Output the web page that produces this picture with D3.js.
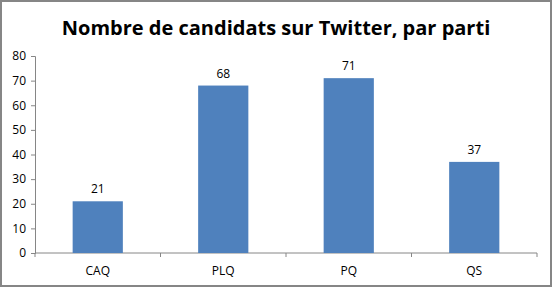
<!DOCTYPE html>
<html>
<head>
<script src="https://cdn.jsdelivr.net/npm/d3@7"></script>
<style>
  body { margin: 0; background: #fff; }
  svg { display: block; font-family: "Open Sans", "Liberation Sans", sans-serif; }
</style>
</head>
<body>
<svg id="chart" width="552" height="287"></svg>
<script>
// données du graphique
const partis = ["CAQ", "PLQ", "PQ", "QS"];
const candidats = [21, 68, 71, 37];
const yTicks = [0, 10, 20, 30, 40, 50, 60, 70, 80];

const W = 552, H = 287;
const m = { top: 56, right: 15, bottom: 34, left: 35 };
const svg = d3.select("#chart");

// cadre
svg.append("rect")
  .attr("x", 1).attr("y", 1).attr("width", W - 2).attr("height", H - 2)
  .attr("fill", "#fff").attr("stroke", "#868686").attr("stroke-width", 2);

svg.append("text")
  .attr("x", W / 2).attr("y", 35)
  .attr("text-anchor", "middle")
  .attr("font-size", 20).attr("font-weight", "bold")
  .text("Nombre de candidats sur Twitter, par parti");

const x = d3.scaleBand().domain(partis).range([m.left, W - m.right]).paddingInner(0.6).paddingOuter(0.3);
const y = d3.scaleLinear().domain([0, 80]).range([H - m.bottom, m.top]);

// axe Y
const gy = svg.append("g").attr("transform", `translate(${m.left},0)`)
  .call(d3.axisLeft(y).tickValues(yTicks).tickSize(4).tickPadding(5));
gy.selectAll("path, line").attr("stroke", "#868686");
gy.selectAll("text").attr("font-size", 12).attr("fill", "#000").attr("font-family", "Open Sans, sans-serif");

// axe X
const step = (W - m.right - m.left) / partis.length;
const gx = svg.append("g").attr("transform", `translate(0,${H - m.bottom})`);
gx.append("line").attr("x1", m.left).attr("x2", W - m.right).attr("stroke", "#868686");
d3.range(partis.length + 1).forEach(i => {
  gx.append("line").attr("x1", m.left + i * step).attr("x2", m.left + i * step)
    .attr("y1", 0).attr("y2", 4).attr("stroke", "#868686");
});

// barres
svg.selectAll("rect.bar").data(partis).enter().append("rect")
  .attr("class", "bar")
  .attr("x", d => x(d)).attr("width", x.bandwidth())
  .attr("y", (d, i) => y(candidats[i]))
  .attr("height", (d, i) => y(0) - y(candidats[i]))
  .attr("fill", "#4F81BD");

svg.selectAll("text.val").data(partis).enter().append("text")
  .attr("class", "val")
  .attr("x", d => x(d) + x.bandwidth() / 2)
  .attr("y", (d, i) => y(candidats[i]) - 8)
  .attr("text-anchor", "middle").attr("font-size", 12)
  .text((d, i) => candidats[i]);

svg.selectAll("text.cat").data(partis).enter().append("text")
  .attr("class", "cat")
  .attr("x", d => x(d) + x.bandwidth() / 2)
  .attr("y", H - m.bottom + 22)
  .attr("text-anchor", "middle").attr("font-size", 12)
  .text(d => d);
</script>
</body>
</html>
